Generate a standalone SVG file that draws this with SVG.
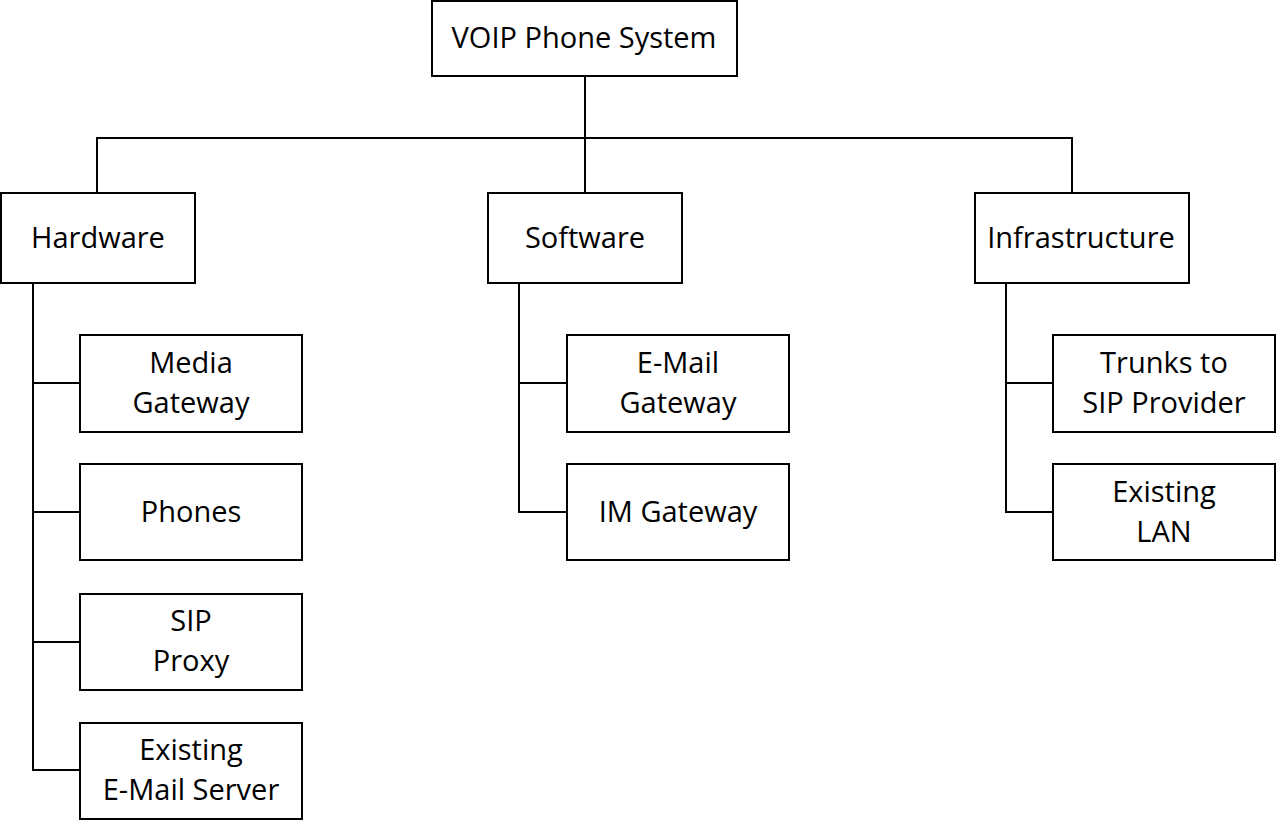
<svg xmlns="http://www.w3.org/2000/svg" width="1277" height="821" viewBox="0 0 1277 821">
<style>
.box{fill:#fff;stroke:#000;stroke-width:2}
.ln{fill:none;stroke:#000;stroke-width:2}
text{font-family:"Open Sans","Liberation Sans",sans-serif;font-size:29px;fill:#000;text-anchor:middle}
</style>
<rect width="1277" height="821" fill="#fff"/>
<g id="connectors">
<path class="ln" d="M585 76V193M97 193V138H1072V193"/>
<path class="ln" d="M33 284V770H80M33 383H80M33 512H80M33 642H80"/>
<path class="ln" d="M519 284V512H567M519 383H567"/>
<path class="ln" d="M1006 284V512H1053M1006 383H1053"/>
</g>
<g id="root"><rect class="box" x="432" y="1" width="305" height="75"/><text x="584" y="48">VOIP Phone System</text></g>
<g id="hardware"><rect class="box" x="1" y="193" width="194" height="90"/><text x="98" y="248">Hardware</text></g>
<g id="software"><rect class="box" x="488" y="193" width="194" height="90"/><text x="585" y="248">Software</text></g>
<g id="infrastructure"><rect class="box" x="975" y="193" width="214" height="90"/><text x="1081" y="248">Infrastructure</text></g>
<g id="media-gateway"><rect class="box" x="80" y="335" width="222" height="97"/><text x="191" y="373">Media</text><text x="191" y="413">Gateway</text></g>
<g id="phones"><rect class="box" x="80" y="464" width="222" height="96"/><text x="191" y="522">Phones</text></g>
<g id="sip-proxy"><rect class="box" x="80" y="594" width="222" height="96"/><text x="191" y="631">SIP</text><text x="191" y="671">Proxy</text></g>
<g id="email-server"><rect class="box" x="80" y="723" width="222" height="96"/><text x="191" y="760">Existing</text><text x="191" y="800">E-Mail Server</text></g>
<g id="email-gateway"><rect class="box" x="567" y="335" width="222" height="97"/><text x="678" y="373">E-Mail</text><text x="678" y="413">Gateway</text></g>
<g id="im-gateway"><rect class="box" x="567" y="464" width="222" height="96"/><text x="678" y="522">IM Gateway</text></g>
<g id="trunks"><rect class="box" x="1053" y="335" width="222" height="97"/><text x="1164" y="373">Trunks to</text><text x="1164" y="413">SIP Provider</text></g>
<g id="lan"><rect class="box" x="1053" y="464" width="222" height="96"/><text x="1164" y="502">Existing</text><text x="1164" y="542">LAN</text></g>
</svg>
